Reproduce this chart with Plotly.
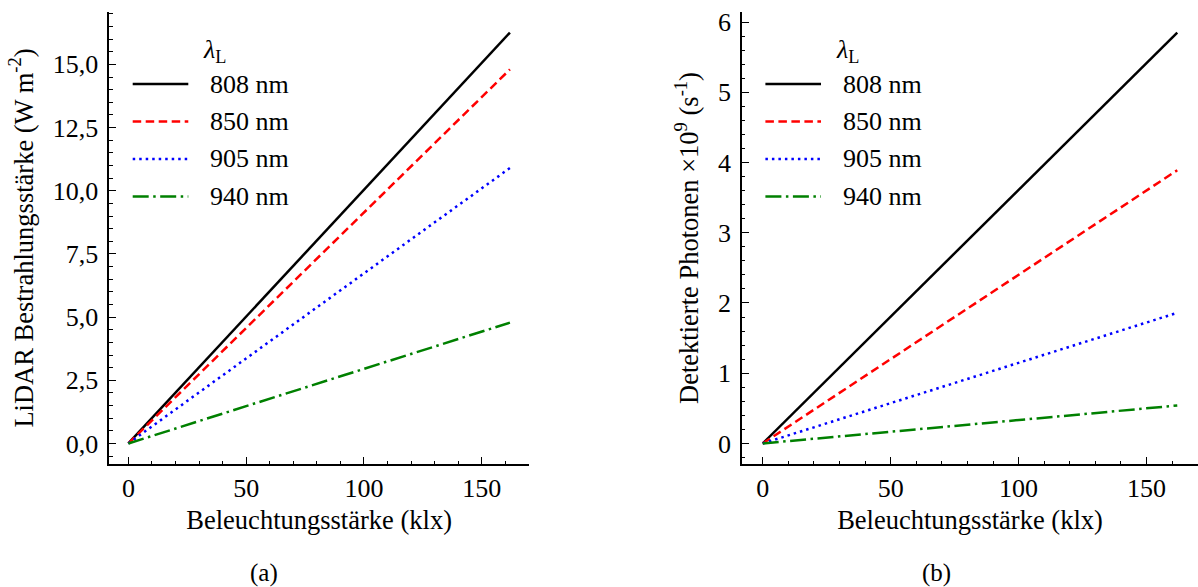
import plotly.graph_objects as go

# ---------------- data ----------------
illuminance_klx = [0, 162]
wavelength_labels = ["808 nm", "850 nm", "905 nm", "940 nm"]

irradiance_808 = [0.0, 16.26]
irradiance_850 = [0.0, 14.80]
irradiance_905 = [0.0, 10.90]
irradiance_940 = [0.0, 4.78]

photons_808 = [0.0, 5.85]
photons_850 = [0.0, 3.89]
photons_905 = [0.0, 1.86]
photons_940 = [0.0, 0.54]

left_yticks = [0, 2.5, 5, 7.5, 10, 12.5, 15]
left_yticktext = ["0,0", "2,5", "5,0", "7,5", "10,0", "12,5", "15,0"]
right_yticks = [0, 1, 2, 3, 4, 5, 6]
xticks = [0, 50, 100, 150]

# ---------------- styles ----------------
colors = ["#000000", "#ff0000", "#0000ff", "#008000"]
dashes = ["solid", "8.5px,4.5px", "2.5px,4px", "16px,4.5px,2.5px,4.5px"]
LW = 2.5
FONT = "'Liberation Serif', 'Times New Roman', Times, serif"

W, H = 1198, 587
# plot areas in px
L_X0, L_X1 = 109.3, 529.0
R_X0, R_X1 = 742.0, 1198.0
Y_TOP, Y_BOT = 12.0, 464.0

fig = go.Figure()

irr = [irradiance_808, irradiance_850, irradiance_905, irradiance_940]
pho = [photons_808, photons_850, photons_905, photons_940]

for i, name in enumerate(wavelength_labels):
    fig.add_trace(go.Scatter(x=illuminance_klx, y=irr[i], mode="lines", name=name,
                             line=dict(color=colors[i], width=LW, dash=dashes[i]),
                             xaxis="x", yaxis="y", showlegend=False))
    fig.add_trace(go.Scatter(x=illuminance_klx, y=pho[i], mode="lines", name=name,
                             line=dict(color=colors[i], width=LW, dash=dashes[i]),
                             xaxis="x2", yaxis="y2", showlegend=False))

def xr(v):
    lo, hi = min(v), max(v)
    m = 0.05 * (hi - lo)
    return [lo - m, hi + m]

x_range = xr(illuminance_klx)
left_range = xr(irradiance_808 + irradiance_850 + irradiance_905 + irradiance_940)
right_range = xr(photons_808 + photons_850 + photons_905 + photons_940)

TICKFONT = dict(family=FONT, size=26, color="black")
TITLEFONT = dict(family=FONT, size=26.5, color="black")
MINOR = dict(ticks="inside", ticklen=3.5, tickwidth=1.1, tickcolor="black")

axis_common = dict(
    showline=True, linecolor="black", linewidth=1.6, mirror=False,
    ticks="inside", ticklen=7, tickwidth=1.2, tickcolor="black",
    showgrid=False, zeroline=False, automargin=False,
    tickfont=TICKFONT,
)

ydom = [1 - Y_BOT / H, 1 - Y_TOP / H]

fig.update_layout(
    width=W, height=H,
    margin=dict(l=0, r=0, t=0, b=0),
    plot_bgcolor="white", paper_bgcolor="white",
    font=dict(family=FONT, color="black"),
    showlegend=False,
    xaxis=dict(axis_common, domain=[L_X0 / W, L_X1 / W], range=x_range,
               tickvals=xticks, anchor="y", minor=dict(MINOR, dtick=10),
               ticklabelstandoff=0,
               title=dict(text="Beleuchtungsstärke (klx)", standoff=8, font=TITLEFONT)),
    yaxis=dict(axis_common, domain=ydom, range=left_range,
               tickvals=left_yticks, ticktext=left_yticktext, anchor="x",
               minor=dict(MINOR, dtick=0.5), ticklabelstandoff=4,
               title=dict(text="LiDAR Bestrahlungsstärke (W m<sup>-2</sup>)", standoff=12,
                          font=TITLEFONT)),
    xaxis2=dict(axis_common, domain=[R_X0 / W, R_X1 / W], range=x_range,
                tickvals=xticks, anchor="y2", minor=dict(MINOR, dtick=10),
                ticklabelstandoff=0,
                title=dict(text="Beleuchtungsstärke (klx)", standoff=8, font=TITLEFONT)),
    yaxis2=dict(axis_common, domain=ydom, range=right_range,
                tickvals=right_yticks, anchor="x2", minor=dict(MINOR, dtick=0.2),
                ticklabelstandoff=4,
                title=dict(text="Detektierte Photonen ×10<sup>9</sup> (s<sup>-1</sup>)",
                           standoff=12, font=TITLEFONT)),
)

# ---------------- manual legends (one per panel) ----------------
entry_y_px = [84.0, 121.5, 159.0, 196.5]
title_y_px = 51.0
ph = Y_BOT - Y_TOP

def ydomain(py):
    return (Y_BOT - py) / ph

for (x0, x1, xref, yref) in [(L_X0, L_X1, "x domain", "y domain"),
                             (R_X0, R_X1, "x2 domain", "y2 domain")]:
    pw = x1 - x0
    s0 = 23.4 / pw
    s1 = 79.0 / pw
    t0 = 99.0 / pw
    fig.add_annotation(x=92.0 / pw, y=ydomain(title_y_px), xref=xref, yref=yref,
                       text="<i>λ</i><sub>L</sub>", showarrow=False,
                       xanchor="left", yanchor="middle",
                       font=dict(family=FONT, size=26, color="black"))
    for i, name in enumerate(wavelength_labels):
        yy = ydomain(entry_y_px[i])
        fig.add_shape(type="line", xref=xref, yref=yref, x0=s0, x1=s1, y0=yy, y1=yy,
                      line=dict(color=colors[i], width=LW, dash=dashes[i]))
        fig.add_annotation(x=t0, y=yy, xref=xref, yref=yref, text=name, showarrow=False,
                           xanchor="left", yanchor="middle",
                           font=dict(family=FONT, size=26, color="black"))

# panel captions
for txt, px in [("(a)", 264.0), ("(b)", 936.0)]:
    fig.add_annotation(x=px / W, y=1 - 573.0 / H, xref="paper", yref="paper",
                       text=txt, showarrow=False, xanchor="center", yanchor="middle",
                       font=dict(family=FONT, size=25, color="black"))

fig.write_html("out.html", config={"displayModeBar": False},
               post_script="document.body.style.margin='0';document.body.style.padding='0';")
